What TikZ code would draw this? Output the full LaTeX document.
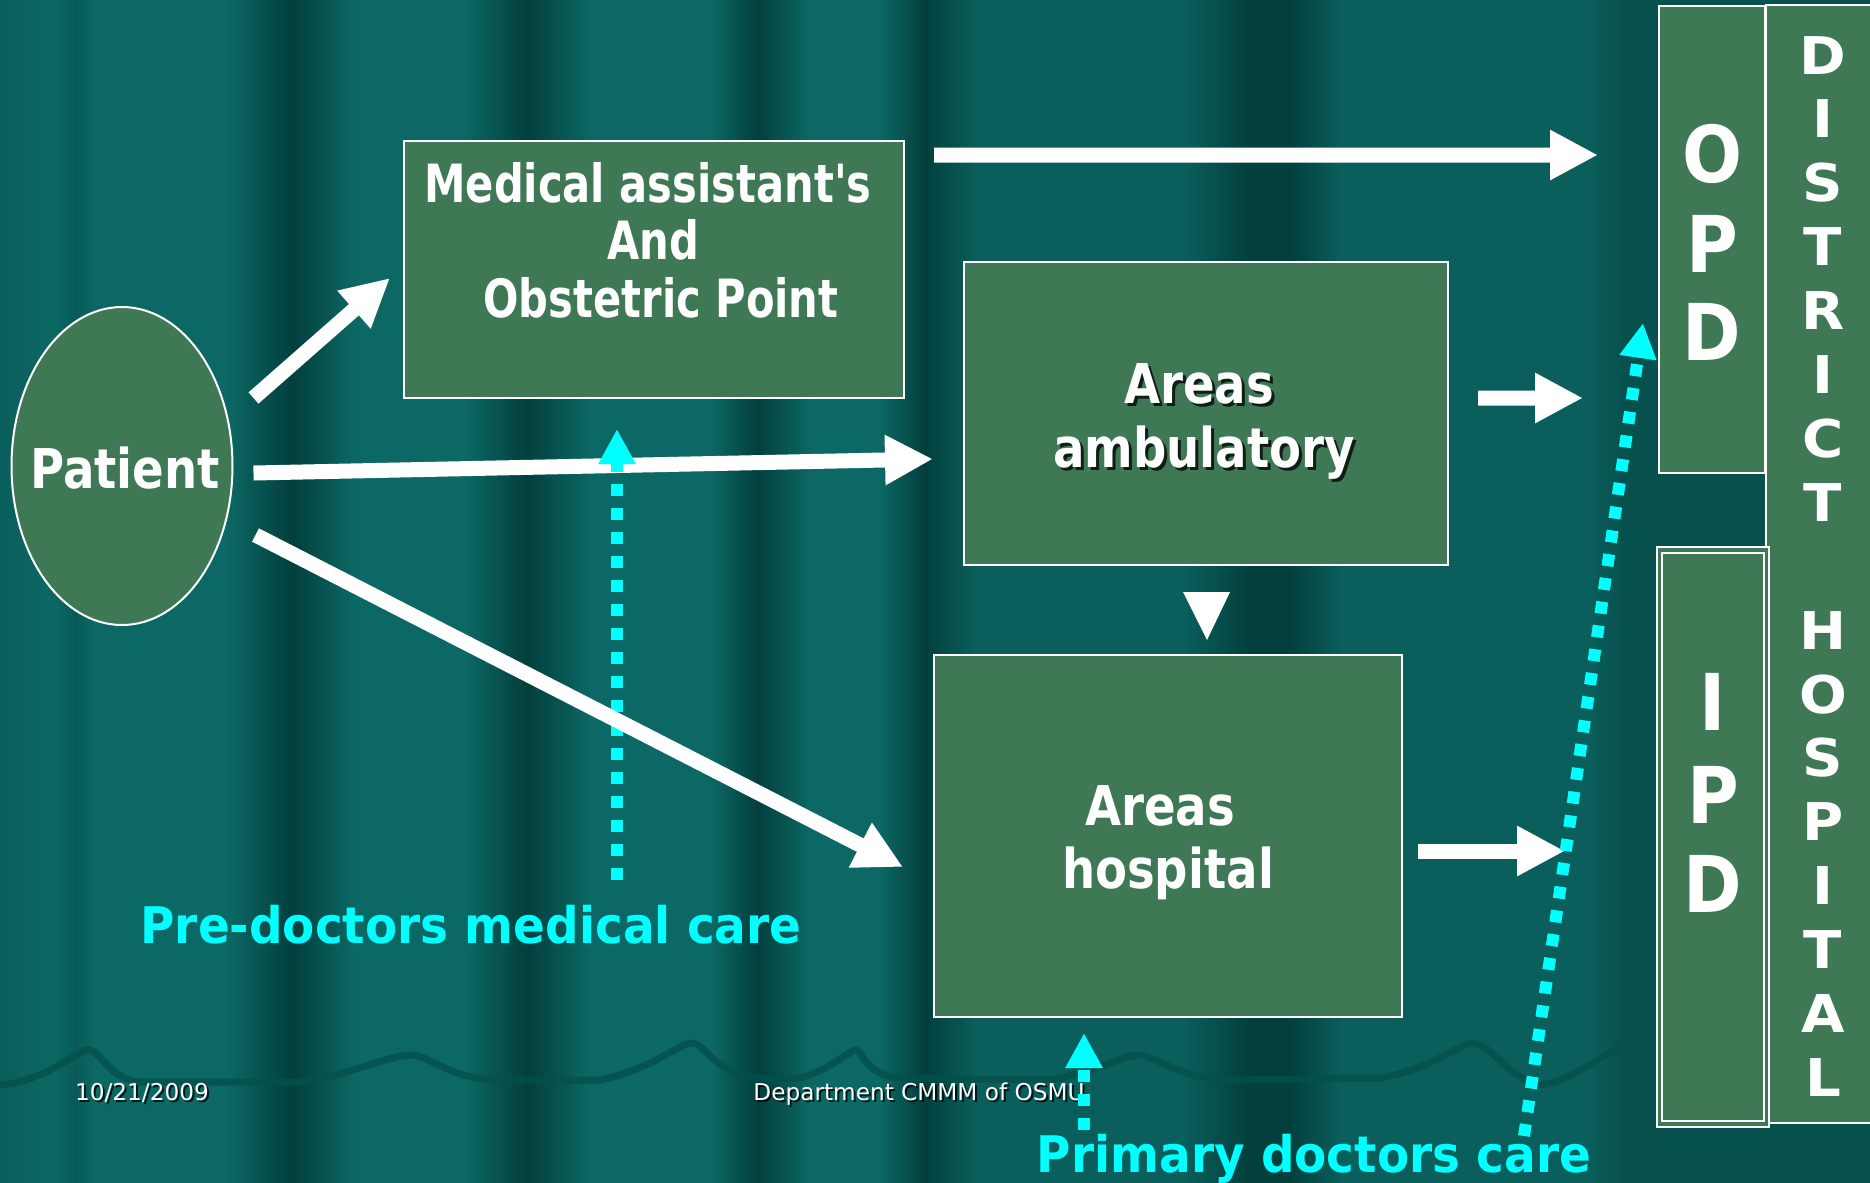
\documentclass[tikz,border=0pt]{standalone}
\usepackage{fontspec}
\usetikzlibrary{arrows.meta,calc,shapes.geometric}
\setmainfont{DejaVu Sans}
\newfontfamily\fMed{DejaVu Sans}[FakeStretch=0.79]
\newfontfamily\fAr{DejaVu Sans}[FakeStretch=0.85]
\newfontfamily\fOPD{DejaVu Sans}[FakeStretch=0.9]
\newfontfamily\fDist{DejaVu Sans}[FakeStretch=1.08]
\newfontfamily\fSm{DejaVu Sans}
\newfontfamily\fLab{DejaVu Sans}[FakeStretch=0.93]
\definecolor{boxg}{HTML}{3E7855}
\definecolor{cyanx}{HTML}{00FFFF}
\definecolor{bgL}{HTML}{0C6864}
\definecolor{bgM}{HTML}{0A5E5B}
\definecolor{bgD}{HTML}{023F3D}
\definecolor{bgS}{HTML}{085A57}
\definecolor{bgR}{HTML}{06504D}
\definecolor{waveC}{HTML}{04504C}
\tikzset{
  boxn/.style={draw=white, line width=0.2mm, fill=boxg, inner sep=0pt, outer sep=0pt},
  wtext/.style={text=white, inner sep=0pt, outer sep=0pt, anchor=base},
  shtext/.style={text=black, opacity=0.75, inner sep=0pt, outer sep=0pt, anchor=base},
  warrow/.style={draw=white, line width=1.5mm, -{Triangle[length=4.8mm,width=4.7mm]}},
  carrow/.style={draw=cyanx, line width=1.2mm, dash pattern=on 1.2mm off 1.2mm, -{Triangle[length=3.5mm,width=3.5mm]}},
  ftext/.style={font=\fAr\bfseries\fontsize{15.6}{18}\selectfont},
  mtext/.style={font=\fMed\bfseries\fontsize{15}{18}\selectfont},
  otext/.style={font=\fOPD\bfseries\fontsize{22.3}{25}\selectfont},
  dtext/.style={font=\fDist\bfseries\fontsize{14.8}{17}\selectfont},
  ltext/.style={text=cyanx, inner sep=0pt, outer sep=0pt, anchor=base, font=\fLab\bfseries\fontsize{14.35}{17}\selectfont},
  smtext/.style={font=\fSm\fontsize{6.6}{8}\selectfont}
}
\begin{document}
\begin{tikzpicture}[x=0.1mm,y=-0.1mm]
\useasboundingbox (0,0) rectangle (1870,1182);
% background curtain
\fill[bgM] (0,0) rectangle (1870,1182);
\foreach \xa/\ca/\xb/\cb in {0/bgM/55/bgL,55/bgL/75/bgS,75/bgS/95/bgL,95/bgL/227/bgL,227/bgL/292/bgD,292/bgD/355/bgL,355/bgL/465/bgL,465/bgL/527/bgD,527/bgD/590/bgL,590/bgL/712/bgL,712/bgL/757/bgD,757/bgD/810/bgL,810/bgL/880/bgL,880/bgL/924/bgD,924/bgD/975/bgM,975/bgM/1185/bgM,1185/bgM/1250/bgD,1250/bgD/1290/bgD,1290/bgD/1340/bgM,1340/bgM/1590/bgM,1590/bgM/1625/bgR,1625/bgR/1870/bgR}
  \shade[left color=\ca, right color=\cb] (\xa-0.5,0) rectangle (\xb+0.5,1182);
\draw[waveC, line width=0.7mm, opacity=0.8] (0,1085) .. controls (50,1080) and (75,1050) .. (89,1050) .. controls (100,1050) and (110,1080) .. (140,1082) -- (300,1082) .. controls (350,1075) and (390,1055) .. (411,1055) .. controls (430,1055) and (450,1080) .. (500,1080) -- (600,1080) .. controls (650,1070) and (680,1043) .. (692,1043) .. controls (705,1043) and (715,1075) .. (760,1078) -- (800,1078) .. controls (830,1070) and (850,1050) .. (856,1050) .. controls (862,1050) and (865,1075) .. (900,1078) -- (1050,1080) .. controls (1100,1070) and (1125,1055) .. (1139,1055) .. controls (1155,1055) and (1180,1080) .. (1230,1080) -- (1380,1078) .. controls (1430,1070) and (1460,1043) .. (1473,1043) .. controls (1490,1043) and (1510,1080) .. (1540,1085) .. controls (1580,1080) and (1620,1040) .. (1650,1030);

% nodes
\node[boxn, ellipse, minimum width=22.1mm, minimum height=31.8mm] (pat) at (122,466) {};
\node[wtext, ftext] (patT) at (125,488) {Patient};

\node[boxn, minimum width=50mm, minimum height=25.7mm] (med) at (654,269.5) {};
\node[wtext, mtext] (medT1) at (648,202) {Medical assistant's};
\node[wtext, mtext] (medT2) at (653,259) {And};
\node[wtext, mtext] (medT3) at (661,317) {Obstetric Point};

\node[boxn, minimum width=48.4mm, minimum height=30.3mm] (amb) at (1206,413.5) {};
\node[shtext, ftext] (ambS1) at (1202,406) {Areas};
\node[shtext, ftext] (ambS2) at (1207,470) {ambulatory};
\node[wtext, ftext] (ambT1) at (1199,403) {Areas};
\node[wtext, ftext] (ambT2) at (1204,467) {ambulatory};

\node[boxn, minimum width=46.8mm, minimum height=36.2mm] (hosp) at (1168,836) {};
\node[wtext, ftext] (hospT1) at (1160,825) {Areas};
\node[wtext, ftext] (hospT2) at (1168,888) {hospital};

\node[boxn, minimum width=11.4mm, minimum height=111.8mm] (dist) at (1823,564) {};
\node[boxn, minimum width=10.6mm, minimum height=46.7mm] (opd) at (1712,239.5) {};
\node[boxn, minimum width=11.2mm, minimum height=58mm] (ipd) at (1713,837) {};
\draw[white, line width=0.2mm] ($(ipd.south west)+(5,-6)$) rectangle ($(ipd.north east)+(-5,6)$);

\node[wtext, otext] (opdO) at (1712,182) {O};
\node[wtext, otext] (opdP) at (1712,272) {P};
\node[wtext, otext] (opdD) at (1712,360) {D};
\node[wtext, otext] (ipdI) at (1713,730) {I};
\node[wtext, otext] (ipdP) at (1713,823) {P};
\node[wtext, otext] (ipdD) at (1713,912) {D};

\foreach \l [count=\i from 0] in {D,I,S,T,R,I,C,T}
  \node[wtext, dtext] (dA\i) at (1823,74+63.9*\i) {\l};
\foreach \l [count=\i from 9] in {H,O,S,P,I,T,A,L}
  \node[wtext, dtext] (dB\i) at (1823,74+63.9*\i) {\l};

% labels
\node[ltext] (preL) at (471,943) {Pre-doctors medical care};
\node[ltext] (priL) at (1314,1172) {Primary doctors care};

% footer
\node[shtext, smtext] (dateS) at (144,1102) {10/21/2009};
\node[wtext, smtext] (dateT) at (142,1100) {10/21/2009};
\node[shtext, smtext] (deptS) at (921,1102) {Department CMMM of OSMU};
\node[wtext, smtext] (deptT) at (919,1100) {Department CMMM of OSMU};

% connectors
\coordinate (c1s) at (617,880);
\coordinate (c2s) at (1084,1130);
\coordinate (c3s) at (1524,1136);

\draw[warrow] ($(pat.east)+(21,-68)$) -- ($(med.west)+(-14,8.5)$);
\draw[warrow] ($(pat.east)+(21,7)$) -- ($(amb.west)+(-31,45.5)$);
\draw[carrow] (c1s) -- ($(med.south)+(-37,31)$);
\draw[warrow] ($(pat.east)+(23,69)$) -- ($(hosp.west)+(-31,31)$);
\draw[warrow] ($(med.north east)+(30,14)$) -- ($(opd.west)+(-61,-84.5)$);
\draw[warrow] ($(amb.east)+(30,-15.5)$) -- ($(opd.south west)+(-76,-75)$);
\draw[warrow] ($(hosp.east)+(16,15)$) -- ($(ipd.west)+(-92,14)$);
\fill[white] ($(amb.south)+(-23,27)$) -- ($(amb.south)+(24,27)$) -- ($(amb.south)+(1,75)$) -- cycle;
\draw[carrow] (c2s) -- ($(hosp.south)+(-84,16)$);
\draw[carrow] (c3s) -- ($(opd.west)+(-16,83.5)$);
\end{tikzpicture}
\end{document}
